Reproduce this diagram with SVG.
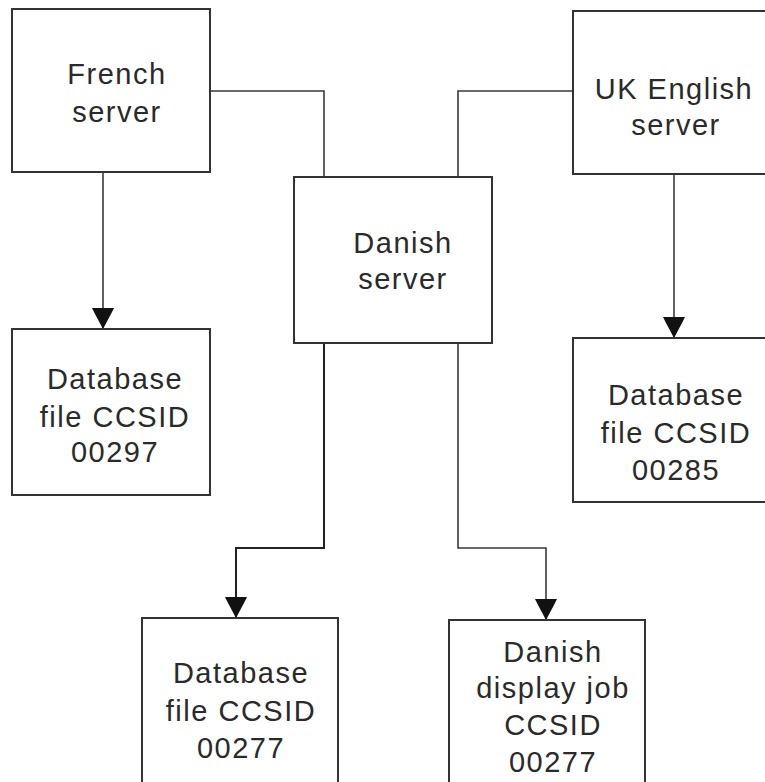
<svg xmlns="http://www.w3.org/2000/svg" width="765" height="782" viewBox="0 0 765 782">
<style>
.box{fill:#fff;stroke:#333;stroke-width:2}
.con{fill:none;stroke:#3a3a3a;stroke-width:1.6}
.lbl{font-family:"Liberation Sans",Arial,sans-serif;font-size:29px;letter-spacing:1.5px;fill:#2a2a2a;text-anchor:middle}
</style>
<defs>
<marker id="ah" markerUnits="userSpaceOnUse" markerWidth="22" markerHeight="24" viewBox="0 -12 22 24" refX="21" refY="0" orient="auto">
<path d="M0,-11 L6,-8 L21,0 L6,8 L0,11 Z" fill="#111"/>
</marker>
</defs>
<rect width="765" height="782" fill="#fff"/>
<g id="connectors">
<polyline class="con" points="210,91 324,91 324,177"/>
<polyline class="con" points="573,91 458,91 458,177"/>
<line class="con" x1="103" y1="172" x2="103" y2="329" marker-end="url(#ah)"/>
<line class="con" x1="674" y1="174" x2="674" y2="338" marker-end="url(#ah)"/>
<polyline class="con" points="324,343 324,548 236,548 236,618" marker-end="url(#ah)" style="stroke:#222;stroke-width:2"/>
<polyline class="con" points="458,343 458,548 546,548 546,620" marker-end="url(#ah)"/>
</g>
<g id="french">
<rect class="box" x="12" y="9" width="198" height="163"/>
<text class="lbl" x="117" y="84">French</text>
<text class="lbl" x="117" y="122">server</text>
</g>
<g id="uk">
<rect class="box" x="573" y="11" width="200" height="163"/>
<text class="lbl" x="674" y="99">UK English</text>
<text class="lbl" x="676" y="135">server</text>
</g>
<g id="danish">
<rect class="box" x="294" y="177" width="198" height="166"/>
<text class="lbl" x="403" y="253">Danish</text>
<text class="lbl" x="403" y="289">server</text>
</g>
<g id="db297">
<rect class="box" x="12" y="329" width="198" height="166"/>
<text class="lbl" x="115" y="389">Database</text>
<text class="lbl" x="115" y="427">file CCSID</text>
<text class="lbl" x="115" y="462">00297</text>
</g>
<g id="db285">
<rect class="box" x="573" y="338" width="200" height="164"/>
<text class="lbl" x="676" y="405">Database</text>
<text class="lbl" x="676" y="443">file CCSID</text>
<text class="lbl" x="676" y="480">00285</text>
</g>
<g id="db277">
<rect class="box" x="142" y="618" width="196" height="172"/>
<text class="lbl" x="241" y="683">Database</text>
<text class="lbl" x="241" y="721">file CCSID</text>
<text class="lbl" x="241" y="758">00277</text>
</g>
<g id="display">
<rect class="box" x="449" y="620" width="196" height="172"/>
<text class="lbl" x="553" y="662">Danish</text>
<text class="lbl" x="553" y="698">display job</text>
<text class="lbl" x="553" y="735">CCSID</text>
<text class="lbl" x="553" y="772">00277</text>
</g>
</svg>
